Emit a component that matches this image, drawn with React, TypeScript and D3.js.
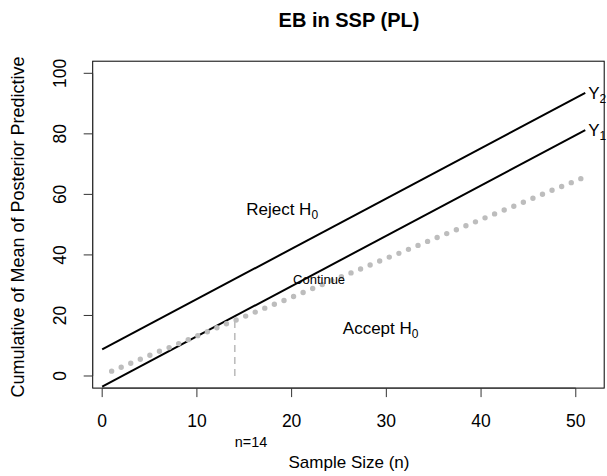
import React from "react";
import * as d3 from "d3";

// Sequential sampling plan: cumulative posterior predictive mean vs boundaries
const sampleSizes = [
  1, 2, 3, 4, 5, 6, 7, 8, 9, 10, 11, 12, 13, 14, 15, 16, 17, 18, 19, 20, 21, 22, 23, 24, 25,
  26, 27, 28, 29, 30, 31, 32, 33, 34, 35, 36, 37, 38, 39, 40, 41, 42, 43, 44, 45, 46, 47, 48, 49, 50, 51,
];
const cumulativeMean = [
  1.6, 2.9, 4.2, 5.5, 6.8, 8.1, 9.3, 10.6, 11.9, 13.2, 14.5, 15.8, 17.1, 18.3, 19.6, 20.9, 22.2,
  23.5, 24.7, 26.0, 27.3, 28.6, 29.9, 31.2, 32.5, 33.7, 35.0, 36.3, 37.6, 38.9, 40.1, 41.4, 42.7,
  44.0, 45.3, 46.6, 47.8, 49.1, 50.4, 51.7, 53.0, 54.3, 55.5, 56.8, 58.1, 59.4, 60.7, 62.0, 63.2,
  64.5, 65.8,
];

// Decision boundaries (straight lines over n = 0..51)
const boundaryN = [0, 51];
const lowerBoundary = [-3.5, 81.2]; // Y1
const upperBoundary = [8.8, 93.5]; // Y2

const stopN = 14;
const stopValue = 18.3;

const xTicks = [0, 10, 20, 30, 40, 50];
const yTicks = [0, 20, 40, 60, 80, 100];

const W = 607;
const H = 476;
const FONT = "Liberation Sans, Arial, Helvetica, sans-serif";

export default function App() {
  const x = d3.scaleLinear().domain([-1, 53]).range([92.7, 604.2]);
  const y = d3.scaleLinear().domain([-4, 104]).range([388.1, 61.2]);

  const line = d3
    .line<[number, number]>()
    .x((d) => x(d[0]))
    .y((d) => y(d[1]));

  const cumPath = line(sampleSizes.map((n, i) => [n, cumulativeMean[i]] as [number, number]));
  const y1Path = line(boundaryN.map((n, i) => [n, lowerBoundary[i]] as [number, number]));
  const y2Path = line(boundaryN.map((n, i) => [n, upperBoundary[i]] as [number, number]));

  const [x0, x1] = x.range();
  const [yb, yt] = y.range();
  const tickLen = 9;

  return (
    <svg
      width={W}
      height={H}
      style={{ position: "absolute", left: 0, top: 0, background: "#fff" }}
      fontFamily={FONT}
    >
      {/* title */}
      <text x={349} y={27} textAnchor="middle" fontSize={20} fontWeight="bold">
        EB in SSP (PL)
      </text>

      {/* plot box */}
      <rect x={x0} y={yt} width={x1 - x0} height={yb - yt} fill="none" stroke="#000" strokeWidth={1} />

      {/* x axis */}
      <line x1={x(xTicks[0])} x2={x(xTicks[xTicks.length - 1])} y1={yb} y2={yb} stroke="#333" />
      {xTicks.map((t) => (
        <g key={"xt" + t}>
          <line x1={x(t)} x2={x(t)} y1={yb} y2={yb + tickLen} stroke="#333" />
          <text x={x(t)} y={427} textAnchor="middle" fontSize={17.5}>
            {t}
          </text>
        </g>
      ))}

      {/* y axis */}
      <line x1={x0} x2={x0} y1={y(yTicks[0])} y2={y(yTicks[yTicks.length - 1])} stroke="#333" />
      {yTicks.map((t) => (
        <g key={"yt" + t}>
          <line x1={x0 - tickLen} x2={x0} y1={y(t)} y2={y(t)} stroke="#333" />
          <text
            transform={`translate(66,${y(t)}) rotate(-90)`}
            textAnchor="middle"
            fontSize={17.5}
          >
            {t}
          </text>
        </g>
      ))}

      {/* axis titles */}
      <text x={349} y={468} textAnchor="middle" fontSize={17}>
        Sample Size (n)
      </text>
      <text transform="translate(24,227) rotate(-90)" textAnchor="middle" fontSize={18}>
        Cumulative of Mean of Posterior Predictive
      </text>

      {/* boundaries */}
      <path d={y1Path ?? ""} fill="none" stroke="#000" strokeWidth={2} />
      <path d={y2Path ?? ""} fill="none" stroke="#000" strokeWidth={2} />

      {/* cumulative mean, dotted */}
      <path
        d={cumPath ?? ""}
        fill="none"
        stroke="#bdbdbd"
        strokeWidth={5.4}
        strokeLinecap="round"
        strokeDasharray="0 10.35"
      />

      {/* stopping point */}
      <line
        x1={x(stopN)}
        x2={x(stopN)}
        y1={y(0)}
        y2={y(stopValue)}
        stroke="#bdbdbd"
        strokeWidth={1.6}
        strokeDasharray="7 5"
      />
      <text x={x(stopN)} y={447} fontSize={14.4}>
        n={stopN}
      </text>

      {/* boundary labels */}
      <text x={x(51) + 3} y={y(upperBoundary[1]) + 6} fontSize={17}>
        Y<tspan dy={4} fontSize={12}>2</tspan>
      </text>
      <text x={x(51) + 3} y={y(lowerBoundary[1]) + 6} fontSize={17}>
        Y<tspan dy={4} fontSize={12}>1</tspan>
      </text>

      {/* region labels */}
      <text x={x(19)} y={y(55) + 5} textAnchor="middle" fontSize={17}>
        Reject H<tspan dy={4} fontSize={12}>0</tspan>
      </text>
      <text x={x(22.9)} y={y(31.7) + 4} textAnchor="middle" fontSize={13}>
        Continue
      </text>
      <text x={x(29.4)} y={y(15.5) + 5} textAnchor="middle" fontSize={17}>
        Accept H<tspan dy={4} fontSize={12}>0</tspan>
      </text>
    </svg>
  );
}
